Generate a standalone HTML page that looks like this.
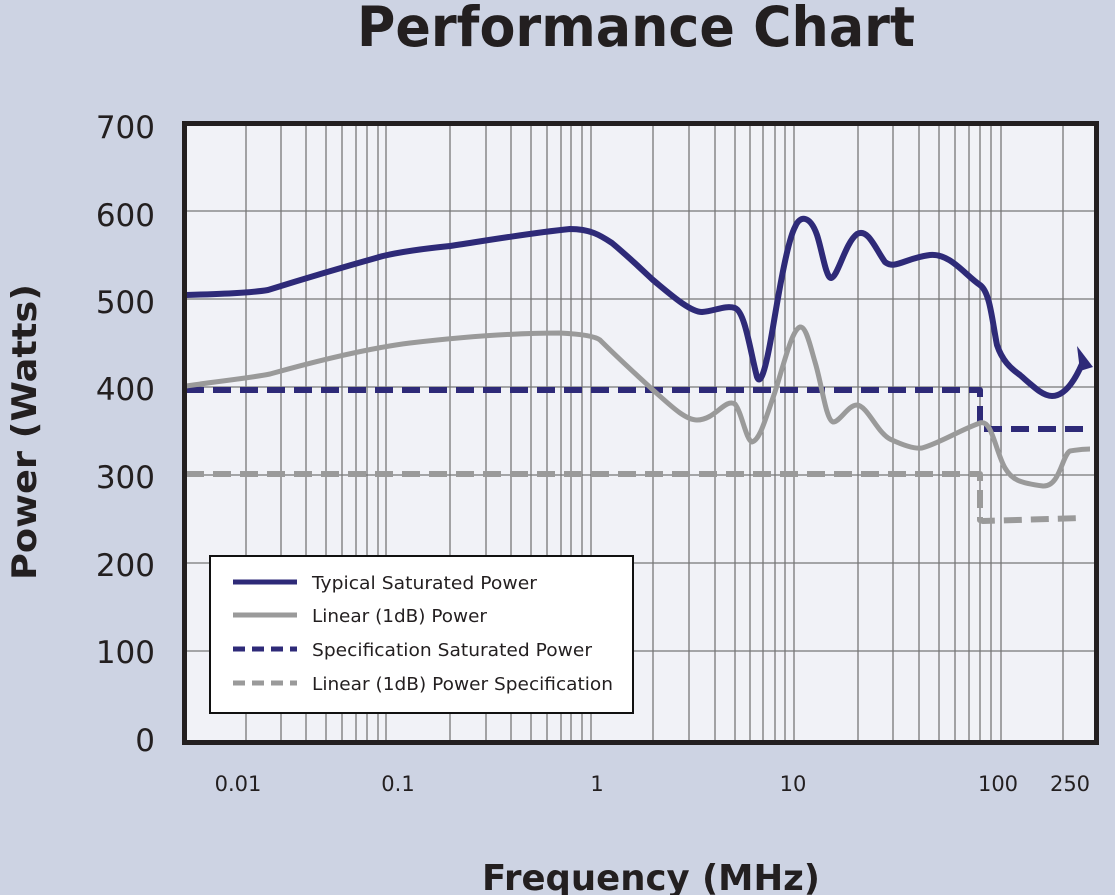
<!DOCTYPE html>
<html><head><meta charset="utf-8"><style>html,body{margin:0;padding:0;background:#cdd3e3}svg{display:block}</style></head>
<body>
<svg width="1115" height="895" viewBox="0 0 1115 895" xmlns="http://www.w3.org/2000/svg" font-family="'DejaVu Sans','Liberation Sans',sans-serif">
<rect width="1115" height="895" fill="#cdd3e3"/>
<text x="636" y="46" text-anchor="middle" font-size="55" font-weight="bold" fill="#231f20" textLength="558" lengthAdjust="spacingAndGlyphs">Performance Chart</text>
<rect x="184" y="123" width="913" height="620" fill="#f1f2f7"/>
<g stroke="#777" stroke-width="1.3">
<line x1="184" x2="1097" y1="211" y2="211"/><line x1="184" x2="1097" y1="299" y2="299"/><line x1="184" x2="1097" y1="387" y2="387"/><line x1="184" x2="1097" y1="475" y2="475"/><line x1="184" x2="1097" y1="563" y2="563"/><line x1="184" x2="1097" y1="651" y2="651"/>
<path d="M246 123V743M281 123V743M306 123V743M326 123V743M342 123V743M356 123V743M367 123V743M378 123V743M386 123V743M450 123V743M486 123V743M511 123V743M531 123V743M547 123V743M561 123V743M571 123V743M582 123V743M591 123V743M653 123V743M689 123V743M715 123V743M735 123V743M750 123V743M763 123V743M775 123V743M785 123V743M794 123V743M858 123V743M893 123V743M919 123V743M939 123V743M955 123V743M969 123V743M980 123V743M991 123V743M1001 123V743M1063 123V743"/>
</g>
<g fill="none" stroke-linejoin="round" stroke-linecap="butt">
<path d="M186 390H980V429H1088" stroke="#2e2a78" stroke-width="6" stroke-dasharray="18 9"/>
<path d="M186 474H980V520L983 521L1082 518" stroke="#9a9a9a" stroke-width="6" stroke-dasharray="18 9"/>
<path d="M186 386C220 381 250 378 270 374C320 360 370 348 410 343C470 336 520 333 560 333C580 334 595 336 600 340C620 360 640 378 653 390C670 405 685 420 697 420C715 420 725 398 735 404C742 413 746 440 752 442C760 440 765 420 775 392C785 360 792 330 800 327C806 326 810 345 815 362C822 385 826 420 833 422C840 422 848 405 857 405C868 406 878 435 892 440C905 446 915 449 922 448C940 443 960 430 980 423C992 419 995 450 1005 468C1012 480 1020 483 1043 486C1060 487 1062 455 1070 451C1077 450 1080 449 1090 449" stroke="#9a9a9a" stroke-width="5"/>
<path d="M186 295C220 294 250 293 268 290C300 280 340 268 383 256C400 252 420 249 450 246C490 240 530 233 570 229C590 229 600 235 612 243C630 258 640 268 653 280C670 294 690 312 702 312C715 311 725 305 735 308C745 312 750 350 757 377C760 385 765 375 773 327C780 285 788 240 795 227C800 215 810 215 817 235C822 250 826 278 831 278C838 277 845 243 857 234C868 228 875 248 885 262C895 270 905 258 930 255C950 253 965 275 980 285C990 292 992 320 997 345C1002 360 1010 368 1020 375C1035 388 1043 396 1052 396C1065 396 1075 380 1082 364" stroke="#2e2a78" stroke-width="6"/>
</g>
<polygon points="1077,346 1093,367 1080,371" fill="#2e2a78"/>
<rect x="184.5" y="123.5" width="912" height="619" fill="none" stroke="#231f20" stroke-width="5"/>
<rect x="210" y="556" width="423" height="157" fill="#fff" stroke="#111" stroke-width="2"/>
<g stroke-width="5">
<line x1="233" x2="297" y1="582" y2="582" stroke="#2e2a78"/>
<line x1="233" x2="297" y1="615" y2="615" stroke="#9a9a9a"/>
<line x1="233" x2="297" y1="649" y2="649" stroke="#2e2a78" stroke-dasharray="12 7"/>
<line x1="233" x2="297" y1="683" y2="683" stroke="#9a9a9a" stroke-dasharray="12 7"/>
</g>
<g font-size="18" fill="#231f20" lengthAdjust="spacingAndGlyphs">
<text x="312" y="589" textLength="225" lengthAdjust="spacingAndGlyphs">Typical Saturated Power</text>
<text x="312" y="622" textLength="175" lengthAdjust="spacingAndGlyphs">Linear (1dB) Power</text>
<text x="312" y="656" textLength="280" lengthAdjust="spacingAndGlyphs">Specification Saturated Power</text>
<text x="312" y="690" textLength="301" lengthAdjust="spacingAndGlyphs">Linear (1dB) Power Specification</text>
</g>
<g font-size="31" fill="#231f20" text-anchor="end">
<text x="155" y="138">700</text><text x="155" y="226">600</text><text x="155" y="313">500</text><text x="155" y="400">400</text><text x="155" y="488">300</text><text x="155" y="576">200</text><text x="155" y="663">100</text><text x="155" y="751">0</text>
</g>
<g font-size="21" fill="#231f20" text-anchor="middle">
<text x="238" y="791">0.01</text><text x="398" y="791">0.1</text><text x="597" y="791">1</text><text x="793" y="791">10</text><text x="998" y="791">100</text><text x="1070" y="791">250</text>
</g>
<text transform="translate(36,432) rotate(-90)" text-anchor="middle" font-size="34" font-weight="bold" fill="#231f20" textLength="296" lengthAdjust="spacingAndGlyphs">Power (Watts)</text>
<text x="651" y="890" text-anchor="middle" font-size="36" font-weight="bold" fill="#231f20" textLength="338" lengthAdjust="spacingAndGlyphs">Frequency (MHz)</text>
</svg>
</body></html>
